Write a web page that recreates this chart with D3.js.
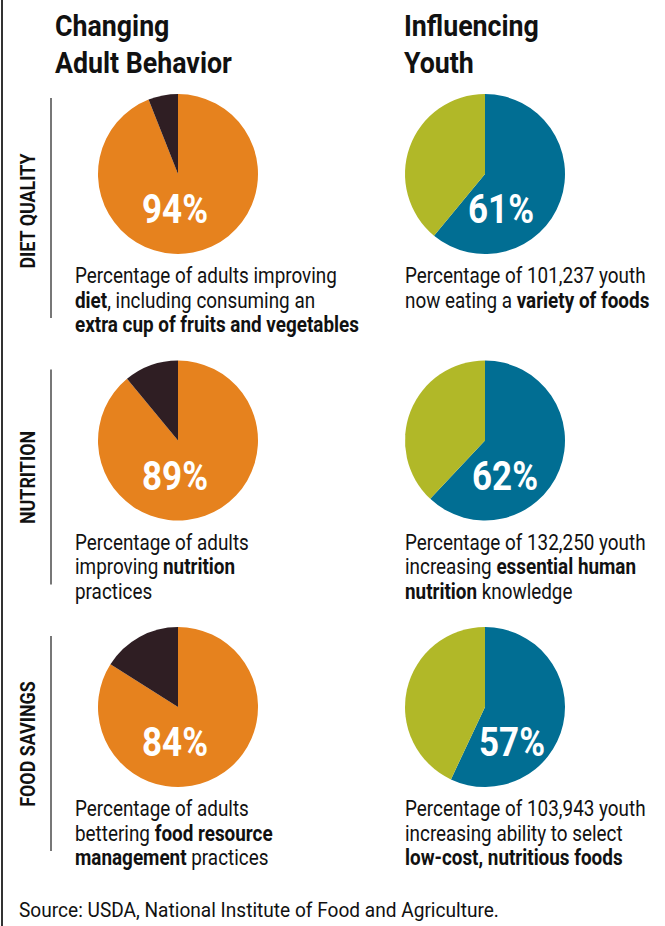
<!DOCTYPE html>
<html>
<head>
<meta charset="utf-8">
<script src="https://cdn.jsdelivr.net/npm/d3@7"></script>
<style>
  html, body { margin: 0; padding: 0; background: #fff; }
  svg { display: block; }
  text { font-family: "Roboto", "Liberation Sans", sans-serif; }
</style>
</head>
<body>
<svg id="chart" width="665" height="926"></svg>
<script>
// ---- data ----
const columnTitles = [["Changing", "Adult Behavior"], ["Influencing", "Youth"]];
const rowLabels = ["DIET QUALITY", "NUTRITION", "FOOD SAVINGS"];
const adultPct = [94, 89, 84];
const youthPct = [61, 62, 57];
const adultText = [
  [[["Percentage of adults improving", false]], [["diet", true], [", including consuming an", false]], [["extra cup of fruits and vegetables", true]]],
  [[["Percentage of adults", false]], [["improving ", false], ["nutrition", true]], [["practices", false]]],
  [[["Percentage of adults", false]], [["bettering ", false], ["food resource", true]], [["management", true], [" practices", false]]]
];
const youthText = [
  [[["Percentage of 101,237 youth", false]], [["now eating a ", false], ["variety of foods", true]]],
  [[["Percentage of 132,250 youth", false]], [["increasing ", false], ["essential human", true]], [["nutrition", true], [" knowledge", false]]],
  [[["Percentage of 103,943 youth", false]], [["increasing ability to select", false]], [["low-cost, nutritious foods", true]]]
];
const sourceText = "Source: USDA, National Institute of Food and Agriculture.";

// ---- layout ----
const svg = d3.select("#chart");
const W = 665, H = 926;
const colX = [178, 485];      // pie centers
const textX = [75, 405];
const titleX = [55, 404];
const rowY = d3.scaleLinear().domain([0, 2]).range([174, 707]);
const R = 80;
const adultColors = ["#E6821E", "#2F1E23"];
const youthColors = ["#016E93", "#B1B828"];
const pctDx = [[-3, -3, -3], [16, 20, 27]];

// condensed-type emulation: horizontal scale calibrated on reference widths
function measure(str, size, weight) {
  const t = svg.append("text").attr("font-size", size).attr("font-weight", weight).text(str);
  const w = t.node().getComputedTextLength();
  t.remove();
  return w;
}
const bodyScale = 262 / measure("Percentage of adults improving", 22, "normal");
const headScale = 177 / measure("Adult Behavior", 30, "bold");
const labelScale = 115 / measure("DIET QUALITY", 21, "bold");
const pctScale = 66 / measure("94%", 40, "bold");
const srcScale = 480 / measure(sourceText, 20, "normal");

// left border
svg.append("line").attr("x1", 2).attr("x2", 2).attr("y1", 0).attr("y2", H)
  .attr("stroke", "#333").attr("stroke-width", 2);

// column titles
columnTitles.forEach((lines, c) => {
  lines.forEach((l, i) => {
    svg.append("text")
      .attr("transform", `translate(${titleX[c]},${36 + i * 37}) scale(${headScale},1)`)
      .attr("font-size", 30).attr("font-weight", "bold").attr("fill", "#111").text(l);
  });
});

const pie = d3.pie().sort(null).value(d => d);
const arc = d3.arc().innerRadius(0).outerRadius(R);

rowLabels.forEach((lab, r) => {
  const cy = rowY(r);
  // separator
  svg.append("line").attr("x1", 51).attr("x2", 51)
    .attr("y1", cy - (r === 0 ? 76 : 71)).attr("y2", cy + 144)
    .attr("stroke", "#777").attr("stroke-width", 2);
  // row label
  svg.append("text")
    .attr("transform", `translate(35,${cy + 37}) rotate(-90) scale(${labelScale},1)`)
    .attr("text-anchor", "middle")
    .attr("font-size", 21).attr("font-weight", "bold").attr("fill", "#111")
    .text(lab);

  [[adultPct[r], adultColors, adultText[r], 0], [youthPct[r], youthColors, youthText[r], 1]].forEach(([p, cols, lines, c]) => {
    const g = svg.append("g").attr("transform", `translate(${colX[c]},${cy})`);
    g.selectAll("path").data(pie([p, 100 - p])).join("path")
      .attr("d", arc).attr("fill", (d, i) => cols[i]);
    g.append("text")
      .attr("transform", `translate(${pctDx[c][r]},49) scale(${pctScale},1)`)
      .attr("text-anchor", "middle").attr("fill", "#fff")
      .attr("font-size", 40).attr("font-weight", "bold").text(p + "%");
    lines.forEach((segs, i) => {
      const t = svg.append("text")
        .attr("transform", `translate(${textX[c]},${cy + 109 + i * 24.5}) scale(${bodyScale},1)`)
        .attr("font-size", 22).attr("fill", "#111");
      segs.forEach(s => {
        t.append("tspan").text(s[0]).attr("font-weight", s[1] ? "bold" : "normal");
      });
    });
  });
});

svg.append("text")
  .attr("transform", `translate(19,917) scale(${srcScale},1)`)
  .attr("font-size", 20).attr("fill", "#111").text(sourceText);
</script>
</body>
</html>
